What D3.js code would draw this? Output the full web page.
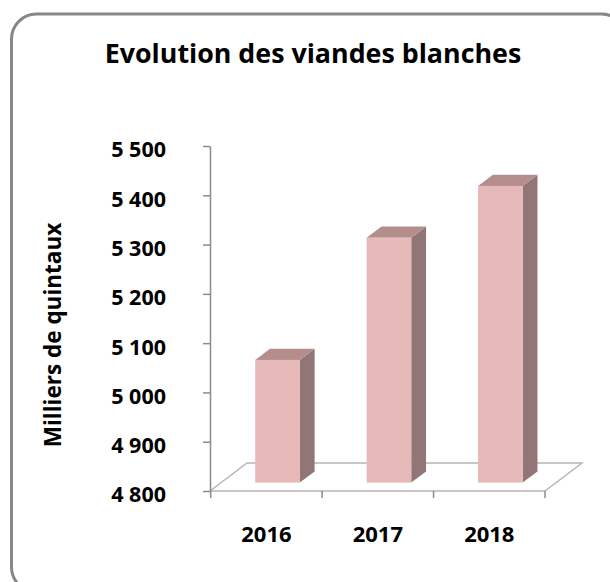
<!DOCTYPE html>
<html>
<head>
<meta charset="utf-8">
<script src="https://cdn.jsdelivr.net/npm/d3@7"></script>
<style>
  html, body { margin: 0; padding: 0; background: #fff; }
  svg { display: block; }
  text { font-family: "Open Sans", "Noto Sans", sans-serif; font-weight: bold; fill: #000; }
</style>
</head>
<body>
<svg id="chart" width="610" height="582"></svg>
<script>
// ---- data ----
const categories = ["2016", "2017", "2018"];
const values = [5049, 5297, 5402];
const yTicks = [4800, 4900, 5000, 5100, 5200, 5300, 5400, 5500];
const chartTitle = "Evolution des viandes blanches";
const yTitle = "Milliers de quintaux";

// ---- layout ----
const svg = d3.select("#chart");
const pLeft = 210, pRight = 545, pTop = 146, pBottom = 491;
const depth = { dx: 37, dy: -28 };       // floor depth vector
const f0 = 0.3, f1 = 0.7;                // bar depth range (fraction of floor depth)

const fmt = v => d3.format(",")(v).replace(/,/g, " ");

const y = d3.scaleLinear().domain([4800, 5500]).range([pBottom, pTop]);
const x = d3.scaleBand().domain(categories).range([pLeft + 0.7, pRight]).padding(0);

// frame
svg.append("rect")
  .attr("x", 11.5).attr("y", 14).attr("width", 615).attr("height", 578)
  .attr("rx", 25).attr("ry", 25)
  .attr("fill", "#fff").attr("stroke", "#878787").attr("stroke-width", 3);

// title
svg.append("text")
  .attr("x", 313).attr("y", 62.5)
  .attr("text-anchor", "middle")
  .style("font-size", "26.8px")
  .text(chartTitle);

// floor
const floorColor = "#b5b5b5";
const fl = svg.append("g").attr("stroke", floorColor).attr("stroke-width", 1.5).attr("fill", "none");
fl.append("path").attr("d",
  `M${pLeft},${pBottom} L${pLeft + depth.dx},${pBottom + depth.dy} L${pRight + depth.dx},${pBottom + depth.dy} L${pRight},${pBottom}`);

// bars
const bw = x.bandwidth() * 0.4;
const bars = svg.append("g");
categories.forEach((c, i) => {
  const cx = x(c) + x.bandwidth() / 2;
  const x0 = cx - bw / 2 + depth.dx * f0;
  const x1 = x0 + bw;
  const yb = y(4800) + depth.dy * f0;
  const yt = y(values[i]) + depth.dy * f0;
  const ddx = depth.dx * (f1 - f0), ddy = depth.dy * (f1 - f0);
  bars.append("path")
    .attr("d", `M${x1},${yt} L${x1 + ddx},${yt + ddy} L${x1 + ddx},${yb + ddy} L${x1},${yb} Z`)
    .attr("fill", "#927577");
  bars.append("path")
    .attr("d", `M${x0},${yt} L${x0 + ddx},${yt + ddy} L${x1 + ddx},${yt + ddy} L${x1},${yt} Z`)
    .attr("fill", "#b38e8d");
  bars.append("rect")
    .attr("x", x0).attr("y", yt).attr("width", bw).attr("height", yb - yt)
    .attr("fill", "#e6b8b7");
});

// x axis (front floor edge)
const axisColor = "#8c8c8c";
const xAxis = d3.axisBottom(x).tickSize(0).tickFormat(d => d).tickSizeOuter(0).tickPadding(35);
const gx = svg.append("g").attr("transform", `translate(0,${pBottom})`).call(xAxis);
gx.select(".domain").attr("stroke", floorColor).attr("stroke-width", 1.5).attr("d", `M${pLeft},0 L${pRight},0`);
gx.selectAll(".tick text").style("font-size", "22px").attr("fill", "#000")
  .style("font-family", "'Open Sans', sans-serif");
const xt = [pLeft + 0.7, ...categories.map(c => x(c) + x.bandwidth())];
xt.forEach(t => gx.append("line").attr("x1", t).attr("x2", t).attr("y1", 0).attr("y2", 7)
  .attr("stroke", axisColor).attr("stroke-width", 1.5));

// y axis
const yAxis = d3.axisLeft(y).tickValues(yTicks).tickSize(7).tickSizeOuter(0).tickFormat(fmt);
const gy = svg.append("g").attr("transform", `translate(${pLeft},0)`).call(yAxis);
gy.select(".domain").attr("stroke", axisColor).attr("stroke-width", 1.5);
gy.selectAll(".tick line").attr("stroke", axisColor).attr("stroke-width", 1.5);
gy.selectAll(".tick text")
  .attr("x", -44).attr("dy", "0.32em").attr("y", 4)
  .attr("text-anchor", "end")
  .style("font-size", "21.5px")
  .style("font-family", "'Open Sans', sans-serif")
  .attr("fill", "#000");

// y title
svg.append("text")
  .attr("transform", "translate(61,335) rotate(-90)")
  .attr("text-anchor", "middle")
  .style("font-size", "22.5px")
  .text(yTitle);
</script>
</body>
</html>
